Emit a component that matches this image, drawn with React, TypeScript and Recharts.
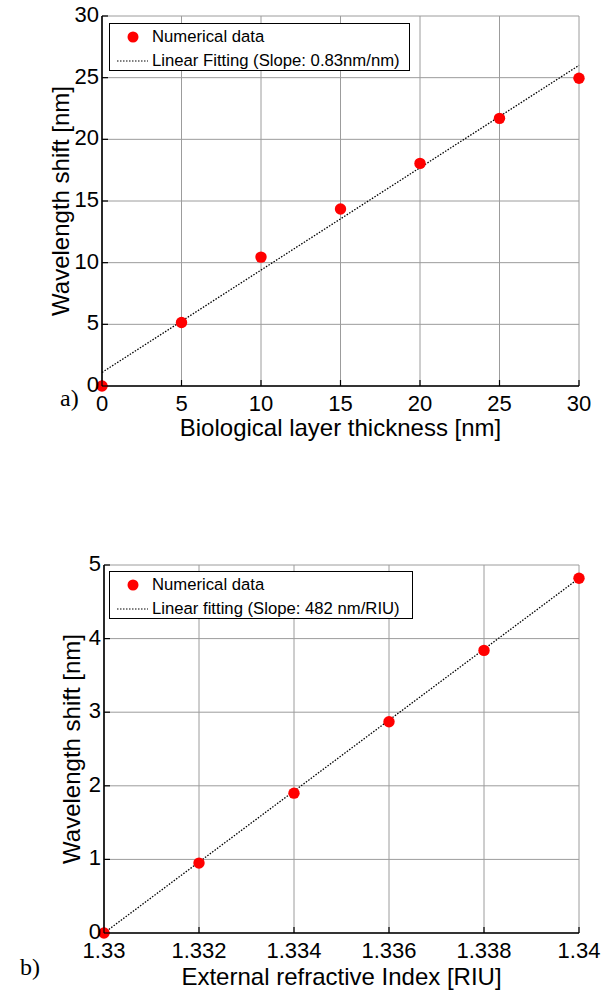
import React from 'react';
import {
  ComposedChart,
  Scatter,
  Line,
  XAxis,
  YAxis,
  CartesianGrid,
  Legend,
} from 'recharts';

// Panel (a): shift versus biological layer thickness
const thicknessNm = [0, 5, 10, 15, 20, 25, 30];
const shiftThickness = [0, 5.15, 10.45, 14.35, 18.05, 21.7, 24.95];
const fitThicknessX = [0, 30];
const fitThicknessY = [1.1, 26.0];
const thicknessTicks = [0, 5, 10, 15, 20, 25, 30];
const shiftTicksA = [0, 5, 10, 15, 20, 25, 30];

// Panel (b): shift versus external refractive index
const indexRiu = [1.33, 1.332, 1.334, 1.336, 1.338, 1.34];
const shiftIndex = [0, 0.95, 1.9, 2.87, 3.84, 4.82];
const fitIndexX = [1.33, 1.34];
const fitIndexY = [0, 4.82];
const indexTicks = [1.33, 1.332, 1.334, 1.336, 1.338, 1.34];
const shiftTicksB = [0, 1, 2, 3, 4, 5];

const SANS = '"Liberation Sans", Arial, Helvetica, sans-serif';
const SERIF = '"Liberation Serif", "Times New Roman", serif';

type Box = { left: number; top: number; right: number; bottom: number };

type PanelProps = {
  width: number;
  height: number;
  plot: Box;
  xs: number[];
  ys: number[];
  fitX: number[];
  fitY: number[];
  xDomain: [number, number];
  yDomain: [number, number];
  xTicks: number[];
  yTicks: number[];
  xTickGap: number;
  xTitleGap: number;
  xTitle: string;
  yTitle: string;
  yTitleX: number;
  pointsName: string;
  fitName: string;
  legendBox: { left: number; top: number; width: number; height: number };
};

const Y_AXIS_W = 60;
const X_AXIS_H = 50;

function Panel(p: PanelProps) {
  const { plot } = p;
  const points = p.xs.map((x, i) => ({ x, y: p.ys[i] }));
  const fit = p.fitX.map((x, i) => ({ x, y: p.fitY[i] }));
  const margin = {
    top: plot.top,
    right: p.width - plot.right,
    left: plot.left - Y_AXIS_W,
    bottom: p.height - plot.bottom - X_AXIS_H,
  };
  const midX = (plot.left + plot.right) / 2;
  const midY = (plot.top + plot.bottom) / 2;

  const bottomTick = (t: any) => (
    <g>
      <line x1={t.x} x2={t.x} y1={plot.bottom} y2={plot.bottom - 6} stroke="#000" strokeWidth={1.2} />
      <text x={t.x} y={plot.bottom + p.xTickGap} textAnchor="middle" fontFamily={SANS} fontSize={22} fill="#000">
        {String(t.payload.value)}
      </text>
    </g>
  );
  const topTick = (t: any) => (
    <line x1={t.x} x2={t.x} y1={plot.top} y2={plot.top + 6} stroke="#000" strokeWidth={1.2} />
  );
  const leftTick = (t: any) => (
    <g>
      <line x1={plot.left} x2={plot.left + 6} y1={t.y} y2={t.y} stroke="#000" strokeWidth={1.2} />
      <text x={plot.left - 3} y={t.y - 2} dy="0.36em" textAnchor="end" fontFamily={SANS} fontSize={22} fill="#000">
        {String(t.payload.value)}
      </text>
    </g>
  );
  const rightTick = (t: any) => (
    <line x1={plot.right} x2={plot.right - 6} y1={t.y} y2={t.y} stroke="#000" strokeWidth={1.2} />
  );

  const legendContent = () => (
    <div
      style={{
        width: p.legendBox.width,
        height: p.legendBox.height,
        boxSizing: 'border-box',
        border: '1px solid #000',
        background: '#fff',
        fontFamily: SANS,
        fontSize: 16.7,
        color: '#000',
        position: 'relative',
      }}
    >
      <svg width={40} height={p.legendBox.height} style={{ position: 'absolute', left: 0, top: 0 }}>
        <circle cx={23} cy={13} r={5.5} fill="#ff0000" />
        <line x1={7} x2={38} y1={37} y2={37} stroke="#000" strokeWidth={1.2} strokeDasharray="1.5 1.5" />
      </svg>
      <div style={{ position: 'absolute', left: 42, top: 13, transform: 'translateY(-50%)', whiteSpace: 'nowrap', lineHeight: 1 }}>
        {p.pointsName}
      </div>
      <div style={{ position: 'absolute', left: 42, top: 37, transform: 'translateY(-50%)', whiteSpace: 'nowrap', lineHeight: 1 }}>
        {p.fitName}
      </div>
    </div>
  );

  return (
    <ComposedChart width={p.width} height={p.height} margin={margin}>
      <CartesianGrid stroke="#9c9c9c" strokeWidth={1} />
      <XAxis
        type="number"
        dataKey="x"
        domain={p.xDomain}
        ticks={p.xTicks}
        height={X_AXIS_H}
        tickLine={false}
        axisLine={{ stroke: '#000', strokeWidth: 1.6 }}
        tick={bottomTick}
        interval={0}
        label={{
          content: () => (
            <text x={midX} y={plot.bottom + p.xTitleGap} textAnchor="middle" fontFamily={SANS} fontSize={24} fill="#000">
              {p.xTitle}
            </text>
          ),
        }}
      />
      <XAxis
        xAxisId="top"
        orientation="top"
        type="number"
        domain={p.xDomain}
        ticks={p.xTicks}
        height={0}
        tickLine={false}
        axisLine={{ stroke: '#000', strokeWidth: 1.6 }}
        tick={topTick}
        interval={0}
      />
      <YAxis
        type="number"
        dataKey="y"
        domain={p.yDomain}
        ticks={p.yTicks}
        width={Y_AXIS_W}
        tickLine={false}
        axisLine={{ stroke: '#000', strokeWidth: 1.6 }}
        tick={leftTick}
        interval={0}
        label={{
          content: () => (
            <text
              x={p.yTitleX}
              y={midY}
              dy="0.36em"
              transform={`rotate(-90 ${p.yTitleX} ${midY})`}
              textAnchor="middle"
              fontFamily={SANS}
              fontSize={24}
              fill="#000"
            >
              {p.yTitle}
            </text>
          ),
        }}
      />
      <YAxis
        yAxisId="right"
        orientation="right"
        type="number"
        domain={p.yDomain}
        ticks={p.yTicks}
        width={0}
        tickLine={false}
        axisLine={{ stroke: '#000', strokeWidth: 1.6 }}
        tick={rightTick}
        interval={0}
      />
      <Legend
        layout="vertical"
        align="center"
        verticalAlign="middle"
        content={legendContent}
        wrapperStyle={{
          position: 'absolute',
          left: p.legendBox.left,
          top: p.legendBox.top,
          width: p.legendBox.width,
          height: p.legendBox.height,
        }}
      />
      <Scatter
        name={p.pointsName}
        data={points}
        dataKey="y"
        fill="#ff0000"
        isAnimationActive={false}
        shape={(s: any) => <circle cx={s.cx} cy={s.cy} r={5.7} fill="#ff0000" />}
      />
      <Line
        name={p.fitName}
        data={fit}
        dataKey="y"
        type="linear"
        stroke="#000"
        strokeWidth={1.3}
        strokeDasharray="1.5 1.5"
        dot={false}
        activeDot={false}
        isAnimationActive={false}
      />
    </ComposedChart>
  );
}

export default function App() {
  return (
    <div style={{ position: 'absolute', left: 0, top: 0, width: 602, height: 992, background: '#fff' }}>
      <div style={{ position: 'absolute', left: 0, top: 0 }}>
        <Panel
          width={602}
          height={450}
          plot={{ left: 102, top: 16, right: 579, bottom: 386 }}
          xs={thicknessNm}
          ys={shiftThickness}
          fitX={fitThicknessX}
          fitY={fitThicknessY}
          xDomain={[0, 30]}
          yDomain={[0, 30]}
          xTicks={thicknessTicks}
          yTicks={shiftTicksA}
          xTickGap={25}
          xTitleGap={50}
          xTitle="Biological layer thickness [nm]"
          yTitle="Wavelength shift [nm]"
          yTitleX={60}
          pointsName="Numerical data"
          fitName="Linear Fitting (Slope: 0.83nm/nm)"
          legendBox={{ left: 109, top: 23, width: 301, height: 48 }}
        />
      </div>
      <div style={{ position: 'absolute', left: 0, top: 450 }}>
        <Panel
          width={602}
          height={542}
          plot={{ left: 104, top: 115, right: 579, bottom: 483 }}
          xs={indexRiu}
          ys={shiftIndex}
          fitX={fitIndexX}
          fitY={fitIndexY}
          xDomain={[1.33, 1.34]}
          yDomain={[0, 5]}
          xTicks={indexTicks}
          yTicks={shiftTicksB}
          xTickGap={25}
          xTitleGap={52}
          xTitle="External refractive Index [RIU]"
          yTitle="Wavelength shift [nm]"
          yTitleX={71}
          pointsName="Numerical data"
          fitName="Linear fitting (Slope: 482 nm/RIU)"
          legendBox={{ left: 109, top: 121, width: 304, height: 48 }}
        />
      </div>
      <div style={{ position: 'absolute', left: 60, top: 386, fontFamily: SERIF, fontSize: 24, lineHeight: 1 }}>a)</div>
      <div style={{ position: 'absolute', left: 20, top: 955, fontFamily: SERIF, fontSize: 24, lineHeight: 1 }}>b)</div>
    </div>
  );
}
